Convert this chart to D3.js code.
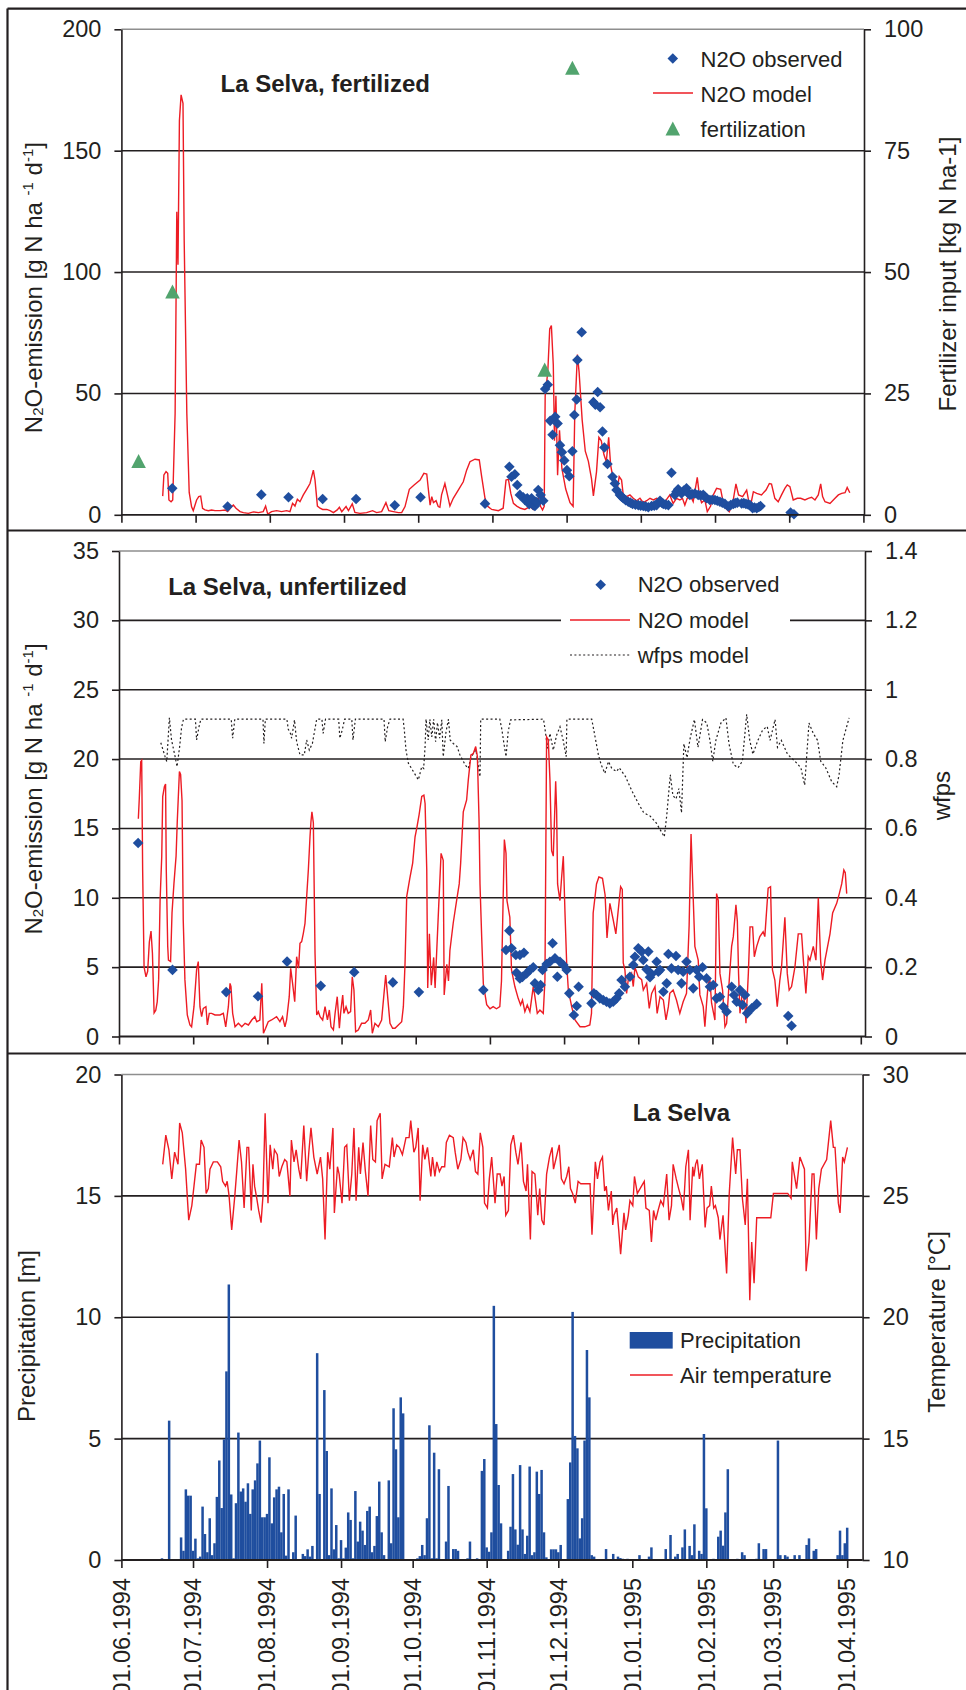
<!DOCTYPE html>
<html><head><meta charset="utf-8">
<script src="https://cdn.jsdelivr.net/npm/d3@7"></script>
<style>
body{margin:0;background:#fff}
svg text{font-family:"Liberation Sans",Arial,sans-serif;fill:#231f20}
</style>
</head><body>
<svg id="c" width="966" height="1690"></svg>
<script>
// ---------- DATA (day = days since 01.06.1994) ----------
const startDate = "01.06.1994";
const monthLabels = ["01.06.1994","01.07.1994","01.08.1994","01.09.1994","01.10.1994","01.11.1994","01.12.1994","01.01.1995","01.02.1995","01.03.1995","01.04.1995"];

const p1LeftTicks = [0,50,100,150,200];
const p1RightTicks = [0,25,50,75,100];
const p2LeftTicks = [0,5,10,15,20,25,30,35];
const p2RightTicks = [0,0.2,0.4,0.6,0.8,1,1.2,1.4];
const p3LeftTicks = [0,5,10,15,20];
const p3RightTicks = [10,15,20,25,30];

// Panel 1: La Selva, fertilized
const fertilization = [[7.2,11.0],[21.4,45.9],[177.3,29.8],[188.9,92.0]];
const fertObserved = [[21.3,10.9],[44.5,3.4],[58.6,8.3],[70,7.2],[84.3,6.5],[98.3,6.5],[114.5,3.9],[125.3,7.2],[152.3,4.6],
 [162.5,19.8],[163.4,15.7],[164.8,16.7],[165.8,12.3],[166.9,8.2],[168.3,7.2],[169,6.1],[170,6.8],[170.8,4.4],[171.4,5.4],[171.8,6.8],[172.5,4.0],[173.2,3.6],[173.6,5.4],[174.2,5.0],[174.6,10.2],[175.6,8.2],[176.7,5.8],
 [177.5,51.8],[178.6,53.6],[179.6,38.7],[180.6,33],[181.7,40.4],[182.7,37.6],[183.7,28.7],[184.5,25.8],[185.5,22.4],[186.6,18.4],[187.6,15.9],[188.9,26.2],[189.7,41.1],[190.7,47.5],[191,63.8],[192.8,75.2],
 [197.7,46.4],[198.5,45.4],[199.5,50.6],[200.5,44.3],[201.5,34.3],[202.3,27.7],[203.6,20.9],[205.7,15.7],[206.7,12.9],[207.4,10.2],[208.8,8.2],[209.5,7.5],[210.2,6.8],[211.2,6.0],[212.3,5.4],[213.2,5.0],[214.1,4.5],[215.3,4.2],[216.5,4.0],[217.5,3.8],[218.6,3.6],[219.6,3.4],[220.7,3.1],[222.1,3.6],[223.2,3.8],[224.2,4.0],[225.6,5.8],[226.3,5.0],[227,4.5],[228,4.2],[229.1,4.0],
 [230.4,17.3],[231.8,8.2],[232.5,9.5],[233.2,10.5],[234.6,8.8],[235.6,10.0],[236.7,10.9],[237.4,9.0],[238.1,8.2],[239,8.5],[240.2,8.8],[241.6,8.2],[242.6,8.0],[243.7,8.2],[244.4,7.5],[245.1,6.8],[246.5,6.1],[247.5,6.2],[248.6,6.1],[249.6,5.8],[250.7,5.4],[251.7,5.0],[252.8,4.5],[254.2,3.4],[255.2,4.0],[256.3,4.5],[257.1,4.8],[258,5.0],[259.8,4.7],[260.7,4.8],[261.6,4.5],[262.5,4.3],[263.3,4.0],[264.4,2.7],[265.2,3.0],[266.1,2.7],[267,3.2],[267.7,3.6],[280.3,0.9],[281.7,0.2]];
const fertModel = [[17.3,7.7],[17.8,16.4],[18.7,17.8],[19.4,17.1],[19.9,6.1],[20.8,5.4],[21.5,6.1],[22.5,41.8],[23.2,124.8],[23.7,103],[24.3,162.4],[25,173],[25.8,169.5],[26.3,113],[27.4,41.8],[28.4,9.2],[29.4,3.3],[30.1,1.7],[31.5,6.1],[32.4,7.5],[33.2,7.7],[34,2.7],[35,2.0],[36.4,1.7],[37.8,2.0],[39.2,1.7],[41.3,1.7],[43.4,2.0],[44.5,1.3],[46.2,3.4],[46.9,4.0],[48,2.7],[49.7,1.3],[51.1,0.9],[53.2,0.6],[55.3,1.2],[57.4,0.9],[59.4,1.3],[60.4,3.6],[61.3,0.3],[62.9,1.3],[65,1.7],[67.1,1.3],[69.2,1.7],[70.6,1.3],[71.7,4.7],[72.7,3.6],[73.7,6.4],[74.8,5.4],[76.2,8.2],[77.6,10.5],[79,12.9],[80.4,18.4],[81.1,14.3],[82.1,3.6],[83.2,2.7],[84.3,2.2],[86,2.2],[87.4,1.7],[88.8,0.9],[90.4,2.0],[91.3,3.1],[92.3,1.3],[94.1,3.4],[95.1,1.7],[96.7,4.5],[97.8,1.0],[99.9,0.6],[102.7,0.9],[105.2,1.7],[106.9,0.9],[109,1.3],[110.8,5.0],[112,1.7],[113.9,1.3],[116,0.9],[117.4,0.9],[118.8,3.4],[120.6,10.5],[122.6,12.3],[125.1,14.3],[126.7,17.1],[127.9,16.8],[128.6,10.2],[129.3,4.0],[130,7.5],[130.7,5.0],[131.8,5.8],[132.7,3.4],[133.4,3.1],[134.1,8.2],[135.5,12.9],[136.9,6.8],[137.6,3.6],[139,6.8],[141.1,10.2],[143.2,13.6],[144.6,18.4],[146,21.9],[148.1,22.9],[149.9,22.6],[150.9,15.7],[152.3,6.8],[153.3,3.6],[155.1,2.2],[157.9,1.7],[159.9,2.7],[161.1,14.3],[162.1,14.6],[163.1,8.8],[164.2,4.7],[165.6,3.6],[167.2,2.7],[169,2.2],[171.1,3.4],[172.5,2.2],[174.6,6.8],[175.6,3.4],[176.4,2.0],[177.1,3.5],[177.5,49],[178.6,58.9],[179.4,76.6],[180.1,78],[180.9,61.7],[181.4,30.5],[182,49],[182.7,16.3],[183.5,34.8],[184.5,19.1],[186.1,10.6],[187.9,5.0],[189.2,3.5],[189.9,41.8],[191,66],[191.7,58.9],[193,39],[194.3,26.2],[195.6,22],[196.9,14.9],[197.7,7.8],[199,17.7],[200,31.9],[201,30.5],[202.1,24.8],[203.1,22.0],[204.1,31.9],[204.9,20.6],[205.7,16.3],[206.7,14.3],[207.4,8.8],[208.5,15.7],[209.5,14.3],[210.2,8.2],[211.6,7.5],[213,8.2],[214.4,6.8],[215.8,5.8],[217.2,6.8],[218.6,5.0],[220,5.8],[221.4,6.8],[222.8,6.1],[224.2,6.8],[225.9,6.1],[227.7,5.4],[229.7,8.2],[231.1,4.7],[232.5,6.8],[233.9,6.1],[235,6.8],[236,4.0],[237,6.8],[238.4,7.7],[239.5,5.4],[241.2,15.4],[242,8.8],[243,5.0],[244.4,6.1],[245.4,1.3],[246.8,3.6],[247.9,8.2],[249.3,10.9],[251,10.5],[252.1,5.0],[253.2,2.7],[254.6,1.3],[256,4.5],[257.4,12.7],[258.5,8.2],[260.2,7.5],[261.9,10.2],[263.3,2.7],[264.7,9.5],[266.1,8.8],[268.1,8.2],[270,10.2],[271.4,12.9],[272.3,12.7],[273.7,6.8],[275.1,5.4],[276.5,8.2],[277.9,10.9],[278.9,12.3],[280,11.6],[281.4,6.1],[283.1,6.8],[284.5,6.8],[286.3,6.1],[287.7,6.8],[289.1,7.2],[290.5,6.1],[291.9,8.2],[292.9,12.7],[293.7,7.5],[294.7,5.4],[296.8,4.7],[298.9,6.8],[300.3,8.2],[301.7,8.8],[303.1,9.1],[304,11.3],[305.1,9.1]];

// Panel 2: La Selva, unfertilized
const unfObserved = [[7,13.95],[21.4,4.8],[43.9,3.2],[57.2,2.9],[69.4,5.4],[83.5,3.65],[97.5,4.64],[113.7,3.9],[124.6,3.2],[151.6,3.35],
 [161.1,6.24],[162.5,7.63],[163.4,6.36],[165.2,5.88],[166.9,5.88],[168.6,6.04],[165.5,4.6],[166.9,4.19],[168,4.3],[169.7,4.55],[171.1,4.79],[172.5,4.99],[173.2,3.83],[174.6,3.35],[175.6,3.71],[176.4,4.79],[178.1,5.23],[179.5,5.39],[180.6,6.72],[181.6,5.64],[182.6,4.31],[183.7,5.39],[185.1,5.15],[186.5,4.79],[187.6,3.11],[189.5,1.55],[190.7,2.2],[191.5,3.59],
 [196.9,2.39],[197.9,3.11],[199,2.99],[200.4,2.75],[201.8,2.63],[203.2,2.51],[204.6,2.39],[206,2.51],[207.4,2.75],[208.5,3.11],[209.5,4.07],[210.9,3.59],[213,4.31],[214.4,5.15],[215.1,5.75],[216.5,6.36],[217.9,6.12],[218.6,5.51],[220.7,6.12],[220,4.84],[221.4,4.27],[222.1,4.51],[224.2,5.39],[224.9,4.67],[225.6,4.79],[227,3.23],[228.4,3.83],[229.1,5.95],[230.4,4.91],[232.3,5.8],[233.2,4.79],[234.6,3.83],[235.3,4.67],[236.7,5.39],[238.1,4.79],[239.5,3.47],[240.9,4.79],[242,4.31],[243.4,4.99],[245.1,4.19],[246.5,3.59],[247.9,3.71],[249.3,2.75],[250.7,2.87],[252.1,2.15],[253.5,1.79],[255.6,3.59],[256.6,2.99],[257.7,2.51],[259.1,3.35],[260.2,2.27],[261.2,2.99],[262.1,1.67],[264,2.03],[266.1,2.35],[279.3,1.48],[280.7,0.78]];
const unfModel = [[7.1,15.7],[7.5,17.2],[8.1,19.8],[8.5,19.9],[8.9,12],[9.5,5.0],[10.3,4.3],[11,4.7],[11.7,6.8],[12.4,7.6],[13,6.0],[13.7,1.7],[14.4,1.9],[15,2.5],[15.6,4.1],[16.2,9.8],[16.9,13.0],[17.3,17.3],[18,18.0],[18.5,18.2],[18.8,12.0],[19.4,6.5],[19.7,5.5],[20.6,5.4],[21.2,8.9],[22,11.0],[22.9,13.0],[23.4,15.5],[24.3,19.1],[24.8,18.9],[25.4,17.0],[25.9,8.4],[26.6,4.1],[27.6,1.55],[28.7,0.83],[29.4,0.7],[30.4,2.15],[31.5,4.8],[32.2,5.4],[32.9,2.15],[33.6,1.43],[34.3,2.03],[35.4,2.15],[36,0.83],[36.8,1.67],[37.8,1.67],[39.2,1.55],[41.3,1.55],[42.7,1.67],[43.7,0.7],[44.8,2.15],[45.5,3.83],[45.9,3.59],[46.6,1.67],[47.6,0.7],[49,0.95],[50.4,0.7],[51.8,0.95],[53.2,0.83],[54.6,1.19],[55.9,1.43],[56.7,1.07],[58,1.19],[58.8,3.83],[59.5,0.23],[60.4,0.59],[61.5,1.07],[62.9,1.19],[65,1.43],[66.4,1.07],[67.5,1.43],[68.5,0.7],[69.2,1.19],[70.3,2.87],[70.9,4.92],[71.7,3.83],[72.6,2.51],[73.4,5.75],[74.2,4.92],[74.8,6.72],[75.5,6.84],[76.2,7.44],[76.9,8.16],[77.6,10.08],[78.3,12.0],[79,14.4],[79.4,15.5],[79.8,16.2],[80.4,15.4],[81.1,6.0],[81.8,1.55],[82.5,1.79],[83.2,1.43],[84.3,1.19],[85.3,2.15],[86.3,1.19],[87.1,1.91],[87.8,0.7],[88.8,0.47],[89.5,1.67],[90.4,2.87],[91.3,0.59],[91.8,1.67],[92.7,2.99],[93.2,1.67],[94.1,2.15],[95,1.67],[96,1.79],[96.7,4.31],[97.4,3.35],[98.1,0.35],[99.2,0.47],[100.6,0.95],[102,0.95],[103.4,1.19],[104.4,1.91],[105.1,0.23],[106.2,0.95],[107.6,0.7],[109,1.19],[110,3.11],[110.7,4.43],[111.4,3.11],[112.5,0.95],[113.6,0.59],[114.6,0.59],[116,0.83],[117.4,1.07],[118.1,2.15],[118.8,5.27],[119.5,10.08],[120.8,11.4],[122,12.5],[123,14.4],[123.7,15.0],[124.7,16.0],[125.8,17.3],[126.7,17.4],[127.2,16.8],[127.9,12.0],[128.3,3.5],[129,7.4],[129.8,3.7],[130.8,5.7],[131.4,3.5],[132.9,9.4],[133.9,13.2],[134.8,12.7],[135.2,3.0],[136.3,5.2],[137,4.0],[137.6,6.2],[139,8.2],[140.4,9.8],[141.5,11.0],[142.1,12.5],[143.2,16.2],[144.6,17.05],[145.3,18.5],[146.4,20.3],[147.4,20.4],[148.4,20.9],[149.1,20.2],[149.8,15.6],[150.2,11.0],[150.9,7.2],[151.6,3.8],[153,2.3],[154.4,2.0],[155.7,2.15],[157.1,2.0],[158.5,2.15],[159.2,4.0],[160.4,14.2],[161.1,13.2],[161.5,9.8],[162.7,8.6],[163.4,4.8],[164.8,3.6],[166.2,2.75],[167.2,2.27],[168,2.63],[169,1.79],[170,2.27],[171.1,1.79],[172.5,3.6],[173.2,2.87],[174.2,1.67],[175.3,1.91],[176.7,1.67],[177.4,4.07],[178.1,21.6],[178.8,21.4],[179.5,18.5],[180.2,13.4],[180.9,13.0],[181.3,15.1],[181.9,18.4],[182.3,16.3],[182.7,11.0],[183,10.6],[183.7,9.8],[184.4,11.5],[185.1,13.0],[185.8,8.9],[186.5,5.3],[187.2,3.35],[188.6,2.15],[190,1.19],[192.1,0.7],[194.1,0.7],[196.2,0.83],[196.9,1.67],[197.6,8.9],[199,11.0],[200,11.5],[201.5,11.4],[202.6,10.2],[203.4,7.1],[204.6,9.6],[206,8.4],[207.1,7.4],[208.1,9.1],[209.1,10.8],[209.8,10.6],[210.2,5.3],[210.9,4.8],[211.6,3.1],[212.3,4.1],[213.7,4.55],[214.4,3.6],[215.1,5.0],[216.5,4.3],[217.9,4.1],[218.6,3.35],[220,3.83],[221.1,2.03],[222.1,3.11],[223.5,3.6],[224.4,1.67],[225.6,2.87],[227,2.63],[228.1,1.19],[229.1,2.15],[229.7,3.11],[231.1,3.35],[232.5,2.63],[233.9,1.67],[235.3,2.51],[236.7,3.11],[237.8,8.0],[238.6,14.6],[239.5,10.0],[240.2,6.5],[241.6,5.5],[242.3,3.0],[243.7,2.15],[244.4,0.7],[245.1,2.4],[245.8,3.83],[246.5,4.07],[247.2,2.4],[248.6,1.19],[249.3,10.3],[250,9.8],[250.7,4.55],[251.8,3.35],[252.8,0.7],[253.5,0.95],[254.6,4.07],[255.6,6.5],[256.3,7.2],[257.4,9.5],[258,8.3],[258.5,4.55],[259.1,1.67],[260.2,3.35],[261.2,2.15],[261.6,0.95],[262.6,4.55],[263.3,7.9],[264.4,7.9],[265.1,5.75],[266.1,6.5],[267.4,7.2],[268.8,7.55],[269.5,7.2],[270.9,10.7],[271.9,10.8],[272.7,4.8],[273.7,4.07],[274.7,2.15],[275.8,4.07],[276.5,5.0],[277.9,8.6],[278.9,4.55],[279.7,3.35],[280.7,3.6],[282.1,5.0],[283.5,7.4],[284.9,7.4],[285.6,5.6],[286.7,3.11],[287.7,5.75],[288.4,5.5],[289.8,6.5],[290.9,5.5],[291.9,10.0],[292.9,5.4],[293.7,4.07],[294.7,5.5],[296.8,7.4],[297.9,8.9],[299.6,9.6],[300.7,10.3],[301.7,11.0],[302.6,12.0],[303.2,11.8],[303.8,10.3]];
const wfpsModel = [[16.5,0.847],[18.3,0.807],[19,0.793],[20.1,0.919],[21,0.855],[22.5,0.807],[23.3,0.778],[24.4,0.836],[25.2,0.891],[26,0.915],[31,0.915],[31.5,0.855],[32.5,0.893],[33.3,0.915],[46,0.915],[46.6,0.86],[47.5,0.915],[59.3,0.915],[59.7,0.845],[60.3,0.915],[69.3,0.915],[69.9,0.886],[70.8,0.874],[71.3,0.86],[72.5,0.913],[73.4,0.85],[74.8,0.812],[76.6,0.812],[77.6,0.855],[78.7,0.826],[80,0.845],[81.8,0.915],[84,0.915],[84.5,0.874],[85.5,0.915],[91,0.915],[91.5,0.86],[92.5,0.884],[93.5,0.915],[96.5,0.915],[97,0.855],[98,0.915],[110,0.915],[110.5,0.85],[111.5,0.893],[112.5,0.915],[118,0.915],[118.5,0.884],[119.2,0.826],[120.2,0.788],[122.3,0.764],[124.4,0.74],[125.8,0.778],[126.6,0.773],[127.2,0.836],[127.6,0.915],[128.5,0.855],[129.2,0.915],[130,0.864],[130.8,0.915],[131.6,0.85],[132.4,0.905],[133.3,0.86],[134.2,0.913],[134.8,0.807],[136,0.88],[137,0.915],[137.7,0.855],[139,0.845],[140.6,0.836],[141.8,0.812],[144,0.783],[145.3,0.773],[146.5,0.807],[148.5,0.826],[150.2,0.749],[150.5,0.915],[158.5,0.915],[159.3,0.888],[160,0.855],[161.1,0.807],[162,0.879],[163,0.913],[176.8,0.915],[177.4,0.888],[178.5,0.831],[179.5,0.874],[180.9,0.826],[182.3,0.869],[183.7,0.893],[185,0.855],[186.3,0.807],[186.6,0.915],[197,0.915],[198.4,0.864],[199.8,0.812],[201,0.783],[202.5,0.759],[204,0.793],[205.4,0.773],[207.4,0.764],[208.5,0.775],[211.1,0.75],[213.7,0.71],[216.3,0.675],[218.8,0.645],[221.4,0.636],[224,0.616],[227.4,0.576],[228.4,0.636],[229.9,0.755],[231,0.695],[232.3,0.685],[233.5,0.715],[234.6,0.645],[235.6,0.844],[236.9,0.804],[238.2,0.859],[240,0.914],[241.5,0.834],[243.4,0.914],[245.2,0.904],[246.5,0.854],[247.7,0.794],[249,0.854],[251.1,0.904],[253.2,0.919],[254.5,0.844],[256.3,0.785],[258.3,0.775],[260.1,0.794],[261.9,0.929],[263.2,0.854],[264.5,0.814],[266.6,0.854],[268.6,0.884],[270.5,0.894],[271.7,0.854],[273.8,0.914],[274.8,0.834],[276.4,0.854],[279,0.814],[282.1,0.794],[284.6,0.775],[286.2,0.725],[288,0.904],[289.8,0.874],[291.6,0.854],[292.9,0.794],[295,0.775],[297.5,0.735],[299.6,0.72],[300.6,0.755],[302.2,0.854],[304.8,0.919]];

// Panel 3: La Selva weather
const precipitation = [[17,0.07],[20,5.74],[25,0.93],[26,0.38],[27,2.91],[28,2.65],[29,2.65],[30,0.38],[31,0.88],[32,0.07],[33,0.14],[34,2.2],[35,1.07],[36,0.32],[37,1.72],[38,0.2],[39,0.69],[40,2.6],[41,4.1],[42,2.14],[43,4.97],[44,7.77],[45,11.35],[46,2.7],[47,0.07],[48,2.34],[49,5.25],[50,2.82],[51,2.95],[52,2.4],[53,3.16],[54,1.9],[55,2.91],[56,3.28],[57,3.98],[58,4.92],[59,1.76],[60,1.76],[61,1.9],[62,4.23],[63,1.51],[64,2.58],[65,2.91],[66,3.02],[67,1.14],[68,2.72],[69,0.18],[70,2.91],[72,0.32],[73,1.83],[76,0.25],[77,0.16],[78,0.44],[79,0.14],[80,0.58],[82,8.52],[83,2.72],[85,7.0],[86,4.49],[87,0.2],[88,2.95],[89,0.44],[90,1.44],[91,0.07],[92,0.82],[93,0.07],[94,0.51],[95,1.96],[96,1.65],[97,0.07],[98,2.84],[99,0.76],[100,1.58],[101,1.21],[102,0.62],[103,2.02],[104,2.2],[105,0.32],[106,0.58],[107,1.81],[108,3.23],[109,1.14],[110,0.2],[112,3.28],[113,0.69],[114,6.25],[115,4.56],[116,1.76],[117,6.7],[118,6.04],[124,0.07],[125,0.16],[126,0.62],[127,0.2],[128,1.72],[129,5.55],[130,0.07],[131,4.42],[132,0.07],[133,3.74],[136,0.76],[137,3.05],[139,0.45],[140,0.45],[141,0.38],[145,0.07],[146,0.76],[149,0.07],[151,3.67],[152,4.16],[153,0.52],[154,0.34],[155,1.14],[156,10.47],[157,5.6],[158,3.09],[159,1.51],[162,0.38],[163,1.37],[164,3.54],[165,1.26],[166,0.63],[167,3.91],[168,1.26],[169,0.25],[170,1.0],[171,3.85],[172,0.2],[173,0.32],[174,3.64],[175,2.72],[176,3.71],[177,1.14],[178,0.11],[180,0.44],[181,0.44],[182,0.44],[183,0.32],[184,0.62],[187,2.51],[188,4.02],[189,10.22],[190,5.11],[191,4.6],[192,0.89],[193,1.72],[194,4.92],[195,8.65],[196,6.7],[197,0.2],[198,0.14],[203,0.45],[206,0.25],[208,0.14],[209,0.08],[210,0.05],[212,0.05],[217,0.2],[221,0.14],[222,0.52],[228,0.45],[230,1.03],[232,0.14],[233,0.25],[235,0.52],[236,1.26],[238,0.58],[239,0.2],[240,1.47],[242,0.38],[243,0.25],[244,5.19],[245,2.13],[248,0.05],[250,0.96],[251,1.21],[252,0.59],[253,1.96],[254,3.74],[258,0.05],[260,0.32],[261,0.2],[266,0.05],[267,0.69],[269,0.45],[270,0.45],[275,4.92],[276,0.2],[278,0.2],[279,0.14],[282,0.2],[284,0.2],[287,0.62],[288,0.89],[290,0.38],[291,0.45],[300,0.2],[301,1.21],[302,0.2],[303,0.69],[304,1.33]];
const airTemperature = [[17.3,26.3],[18.6,27.5],[19.9,26.9],[21.1,25.7],[22.3,26.8],[23.7,26.3],[24.4,28.0],[25.5,27.6],[26.9,26.1],[28.2,24.0],[29.5,24.6],[30.4,25.4],[31.4,26.3],[32.7,26.3],[33.4,27.3],[34.6,27.0],[35.5,25.1],[36.4,25.3],[37.1,26.1],[38.5,26.4],[40.2,26.4],[41.6,26.2],[42.4,25.6],[43.6,25.4],[44.3,25.6],[45.1,25.0],[46.2,23.6],[47.5,25.0],[48.3,26.0],[49.3,27.3],[50.3,26.4],[51.4,24.5],[52.6,27.0],[53.3,27.0],[54.4,24.4],[55.1,26.3],[55.8,25.4],[56.7,24.9],[57.5,24.4],[58.5,23.9],[59.3,25.0],[60.2,28.4],[61.4,24.7],[62.3,27.1],[63.4,26.1],[64.1,26.9],[65.3,26.7],[66.1,25.8],[67.2,26.2],[68.4,26.5],[69.3,26.4],[70.6,25.0],[71.2,27.3],[72.3,26.4],[73.2,26.9],[74.3,26.1],[75.1,25.7],[76.4,27.9],[77.6,25.6],[78.5,26.8],[79.4,27.8],[80.6,26.6],[82,25.9],[83.4,26.6],[84.3,25.7],[85.3,23.2],[86.4,26.8],[87.3,26.1],[88.6,27.8],[89.2,24.3],[90.5,26.2],[91.2,25.9],[92.4,24.7],[93.5,27.0],[94.4,27.1],[95.5,24.8],[96.5,25.9],[97.4,27.8],[98.3,24.8],[99.4,27.0],[100.1,25.9],[101.2,27.2],[102.2,26.0],[103.3,25.0],[104.4,27.9],[105.3,26.5],[106.4,26.4],[107.1,28.1],[108.4,28.4],[109.2,25.7],[110.4,26.3],[112.2,26.2],[113.5,27.4],[114.2,26.6],[115.3,27.1],[116.4,27.0],[117.7,26.7],[119.2,27.4],[120.5,27.4],[121.2,28.1],[122.5,26.8],[123.3,27.0],[124.3,27.8],[125.1,24.8],[126.2,27.1],[127.1,26.5],[128.2,27.0],[129.6,25.8],[130.3,26.6],[131.3,25.8],[132.1,26.4],[133.2,26.0],[134.2,26.2],[135.4,26.2],[136.1,27.2],[137.4,27.5],[139,27.4],[139.8,26.8],[140.9,26.1],[142.2,26.5],[143.1,27.4],[144.3,27.2],[145.1,26.8],[146.1,26.5],[147.4,26.9],[148.3,26.0],[149.3,25.9],[150.3,27.6],[151.4,27.0],[152.1,24.7],[153.3,24.5],[154.1,25.7],[155.1,26.6],[156.5,24.7],[157.4,25.9],[158.6,25.9],[159.4,25.4],[160.3,25.8],[161,24.2],[162.1,24.4],[163.1,27.1],[164.2,27.5],[165.2,26.8],[166.1,26.3],[167.4,27.2],[168.4,25.6],[169.5,25.2],[170.1,26.3],[171.3,23.2],[172,26.0],[173.2,25.9],[174.4,24.2],[175.2,25.3],[176.1,24.0],[177,23.8],[178.1,25.9],[179.3,26.6],[180.4,27.0],[181,26.1],[182.2,26.6],[183.4,27.1],[184.3,25.7],[185.4,25.5],[186.5,25.8],[187.4,26.2],[188.1,25.3],[189,25.1],[190.1,24.7],[191.3,25.6],[192.4,25.5],[196.3,25.5],[197.1,23.4],[198.5,26.4],[199.4,25.7],[200.5,26.4],[201.5,26.6],[202.4,25.2],[203.1,25.4],[204,24.4],[205.2,25.2],[205.8,23.8],[206.3,24.2],[207.5,24.5],[208.3,23.6],[209.1,22.6],[210.5,24.3],[211.2,23.6],[212.3,24.2],[213,24.8],[214.2,24.6],[214.9,25.8],[216.1,25.1],[219,25.6],[219.7,24.5],[221.1,24.4],[222,23.1],[222.9,24.4],[223.8,24.0],[224.8,24.4],[225.9,24.8],[227,24.6],[228.4,25.9],[229.4,24.0],[230.4,24.6],[231.1,26.3],[232.4,25.7],[233.4,25.3],[234.5,24.9],[235.4,24.4],[236.4,26.2],[237.5,26.9],[238.2,24.0],[239.3,26.2],[239.8,25.8],[240.5,26.3],[241.2,26.5],[242.1,25.7],[243.3,26.3],[244.5,23.7],[245.3,24.5],[246.4,24.6],[247.1,25.4],[248.1,24.5],[248.8,24.6],[250,24.1],[250.7,23.2],[252,24.2],[253.5,21.8],[254.6,25.1],[256,27.4],[257.3,25.9],[258,26.9],[259.1,26.9],[260.1,24.9],[261.3,23.8],[262.2,25.7],[263.2,20.7],[264,23.1],[265,21.4],[266.1,24.1],[272,24.1],[273.1,25.1],[279.1,25.1],[280.5,24.9],[281,26.4],[282.8,25.3],[284.2,26.6],[286.1,26.1],[286.8,21.9],[288,23.1],[289.3,25.9],[290.1,25.9],[291.1,23.2],[292.1,25.3],[293.2,26.1],[295.4,26.5],[297.1,28.1],[298.2,27.0],[298.9,27.0],[300.3,24.7],[301,24.3],[302.1,26.6],[302.8,26.4],[304.1,27.0]];

// ---------- DRAWING ----------
const svg = d3.select("#c");
const ink = "#231f20", red = "#ed1c24", blue = "#1f4e9f", green = "#52a46e";
const parse = d3.utcParse("%d.%m.%Y");
const t0 = parse(startDate).getTime();
const toDate = d => new Date(t0 + d * 864e5);
const x = d3.scaleUtc().domain([toDate(0), toDate(311)]).range([121.4, 863.9]);

const diamond = "M0,-5.3L5.3,0L0,5.3L-5.3,0Z";
const triangle = "M0,-7.5L7.3,6.6L-7.3,6.6Z";

const panels = [
  {top:29.3, bottom:514.8, left:121.4, right:864, yL:[0,200], yR:[0,100], lt:p1LeftTicks, rt:p1RightTicks,
   xt:d3.range(11).map(i => toDate(i*31.08))},
  {top:551, bottom:1036.5, left:119, right:865, yL:[0,35], yR:[0,1.4], lt:p2LeftTicks, rt:p2RightTicks,
   xt:d3.range(11).map(i => toDate(-1 + i*31.07))},
  {top:1074.5, bottom:1560, left:121.4, right:862.6, yL:[0,20], yR:[10,30], lt:p3LeftTicks, rt:p3RightTicks,
   xt:monthLabels.map(parse)}
];

function frame(p){
  const yL = d3.scaleLinear().domain(p.yL).range([p.bottom, p.top]);
  const yR = d3.scaleLinear().domain(p.yR).range([p.bottom, p.top]);
  const g = svg.append("g");
  g.selectAll("line.grid").data(p.lt.filter(v => v > p.yL[0])).join("line")
    .attr("x1", p.left).attr("x2", p.right)
    .attr("y1", d => yL(d)).attr("y2", d => yL(d))
    .attr("stroke", d => d === p.yL[1] ? "#8e8e8e" : ink).attr("stroke-width", 1.6);
  return {g, yL, yR};
}
function axes(p, yL, yR, labelsX){
  const style = sel => {
    sel.attr("font-family", null).attr("font-size", null);
    sel.selectAll("path.domain").attr("stroke", ink).attr("stroke-width", 1.6);
    sel.selectAll(".tick line").attr("stroke", ink).attr("stroke-width", 1.6);
    sel.selectAll(".tick text").style("font-size", "23.5px").attr("fill", ink);
  };
  svg.append("g").attr("transform", `translate(${p.left},0)`)
    .call(d3.axisLeft(yL).tickValues(p.lt).tickSize(7).tickPadding(13).tickSizeOuter(0).tickFormat(d => String(d)))
    .call(style);
  svg.append("g").attr("transform", `translate(${p.right},0)`)
    .call(d3.axisRight(yR).tickValues(p.rt).tickSize(7).tickPadding(13).tickSizeOuter(0).tickFormat(d => String(d)))
    .call(style);
  const bx = svg.append("g").attr("transform", `translate(0,${p.bottom})`)
    .call(d3.axisBottom(x).tickValues(p.xt).tickSize(8).tickSizeOuter(0).tickFormat(""))
    .call(style);
  bx.select("path.domain").remove();
  svg.append("line").attr("x1", p.left).attr("x2", p.right).attr("y1", p.bottom).attr("y2", p.bottom)
    .attr("stroke", ink).attr("stroke-width", 1.8);
  if (labelsX){
    svg.append("g").selectAll("text").data(labelsX).join("text")
      .attr("transform", d => `translate(${x(parse(d))},1578) rotate(-90)`)
      .attr("text-anchor", "end").attr("dy", "0.35em").style("font-size", "23.5px").text(d => d);
  }
}
const lineGen = y => d3.line().x(d => x(toDate(d[0]))).y(d => y(d[1]));

// ---- Panel 1
{
  const p = panels[0]; const {g, yL, yR} = frame(p);
  g.append("path").datum(fertModel).attr("d", lineGen(yL)).attr("fill", "none").attr("stroke", red).attr("stroke-width", 1.4);
  g.selectAll("path.obs").data(fertObserved).join("path").attr("class", "obs").attr("d", diamond)
    .attr("transform", d => `translate(${x(toDate(d[0]))},${yL(d[1])})`).attr("fill", blue);
  g.selectAll("path.fert").data(fertilization).join("path").attr("class", "fert").attr("d", triangle)
    .attr("transform", d => `translate(${x(toDate(d[0]))},${yR(d[1])})`).attr("fill", green);
  axes(p, yL, yR);
  svg.append("text").attr("x", 220.5).attr("y", 91.5).style("font-size", "24px").style("font-weight", "bold").text("La Selva, fertilized");
  svg.append("path").attr("d", diamond).attr("transform", "translate(672.8,58.5)").attr("fill", blue);
  svg.append("text").attr("x", 700.6).attr("y", 66.5).style("font-size", "22px").text("N2O observed");
  svg.append("line").attr("x1", 653).attr("x2", 693).attr("y1", 93).attr("y2", 93).attr("stroke", red).attr("stroke-width", 1.4);
  svg.append("text").attr("x", 700.6).attr("y", 101.5).style("font-size", "22px").text("N2O model");
  svg.append("path").attr("d", triangle).attr("transform", "translate(672.8,129)").attr("fill", green);
  svg.append("text").attr("x", 700.6).attr("y", 136.5).style("font-size", "22px").text("fertilization");
}
// ---- Panel 2
{
  const p = panels[1]; const {g, yL, yR} = frame(p);
  g.append("path").datum(wfpsModel).attr("d", lineGen(yR)).attr("fill", "none").attr("stroke", ink).attr("stroke-width", 1.2).attr("stroke-dasharray", "2,2.4");
  g.append("path").datum(unfModel).attr("d", lineGen(yL)).attr("fill", "none").attr("stroke", red).attr("stroke-width", 1.4);
  g.selectAll("path.obs").data(unfObserved).join("path").attr("class", "obs").attr("d", diamond)
    .attr("transform", d => `translate(${x(toDate(d[0]))},${yL(d[1])})`).attr("fill", blue);
  axes(p, yL, yR);
  svg.append("text").attr("x", 168.2).attr("y", 595).style("font-size", "24px").style("font-weight", "bold").text("La Selva, unfertilized");
  svg.append("rect").attr("x", 561).attr("y", 568).attr("width", 229).attr("height", 104).attr("fill", "#fff");
  svg.append("path").attr("d", diamond).attr("transform", "translate(600.7,584.7)").attr("fill", blue);
  svg.append("text").attr("x", 637.7).attr("y", 592.3).style("font-size", "22px").text("N2O observed");
  svg.append("line").attr("x1", 570).attr("x2", 630).attr("y1", 620).attr("y2", 620).attr("stroke", red).attr("stroke-width", 1.4);
  svg.append("text").attr("x", 637.7).attr("y", 627.5).style("font-size", "22px").text("N2O model");
  svg.append("line").attr("x1", 570).attr("x2", 630).attr("y1", 655).attr("y2", 655).attr("stroke", ink).attr("stroke-width", 1.2).attr("stroke-dasharray", "2,2.4");
  svg.append("text").attr("x", 637.7).attr("y", 662.5).style("font-size", "22px").text("wfps model");
}
// ---- Panel 3
{
  const p = panels[2]; const {g, yL, yR} = frame(p);
  g.selectAll("rect.bar").data(precipitation).join("rect").attr("class", "bar")
    .attr("x", d => x(toDate(d[0])) - 1.25).attr("width", 2.5)
    .attr("y", d => yL(d[1])).attr("height", d => p.bottom - yL(d[1])).attr("fill", blue);
  g.append("path").datum(airTemperature).attr("d", lineGen(yR)).attr("fill", "none").attr("stroke", red).attr("stroke-width", 1.4);
  axes(p, yL, yR, monthLabels);
  svg.append("text").attr("x", 632.7).attr("y", 1120.7).style("font-size", "24px").style("font-weight", "bold").text("La Selva");
  svg.append("rect").attr("x", 629.7).attr("y", 1332).attr("width", 43).attr("height", 16.6).attr("fill", blue);
  svg.append("text").attr("x", 680).attr("y", 1347.5).style("font-size", "22px").text("Precipitation");
  svg.append("line").attr("x1", 630).attr("x2", 672.7).attr("y1", 1375).attr("y2", 1375).attr("stroke", red).attr("stroke-width", 1.4);
  svg.append("text").attr("x", 680).attr("y", 1382.5).style("font-size", "22px").text("Air temperature");
}

// ---- axis titles
function vtitle(xp, yc, parts){
  const t = svg.append("text").attr("transform", `translate(${xp},${yc}) rotate(-90)`).attr("text-anchor", "middle").style("font-size", "24px");
  parts.forEach(([s, k]) => {
    const ts = t.append("tspan").text(s);
    if (k === "sub") ts.style("font-size", "15px").attr("baseline-shift", "-1");
    if (k === "sup") ts.style("font-size", "15px").attr("baseline-shift", "9");
  });
}
const n2oTitle = [["N"],["2","sub"],["O-emission [g N ha "],["-1","sup"],[" d"],["-1","sup"],["]"]];
vtitle(41.5, 287.6, n2oTitle);
vtitle(41.5, 789, n2oTitle);
vtitle(35, 1336, [["Precipitation [m]"]]);
vtitle(956, 274, [["Fertilizer input [kg N ha-1]"]]);
vtitle(950, 795.7, [["wfps"]]);
vtitle(945, 1322, [["Temperature [°C]"]]);

// ---- outer frame
const fr = svg.append("g").attr("stroke", ink).attr("stroke-width", 2.2);
fr.append("line").attr("x1", 7.5).attr("x2", 7.5).attr("y1", 8.6).attr("y2", 1690);
fr.append("line").attr("x1", 7.5).attr("x2", 966).attr("y1", 8.6).attr("y2", 8.6);
fr.append("line").attr("x1", 7.5).attr("x2", 966).attr("y1", 530.5).attr("y2", 530.5);
fr.append("line").attr("x1", 7.5).attr("x2", 966).attr("y1", 1053.5).attr("y2", 1053.5);
</script>
</body></html>
